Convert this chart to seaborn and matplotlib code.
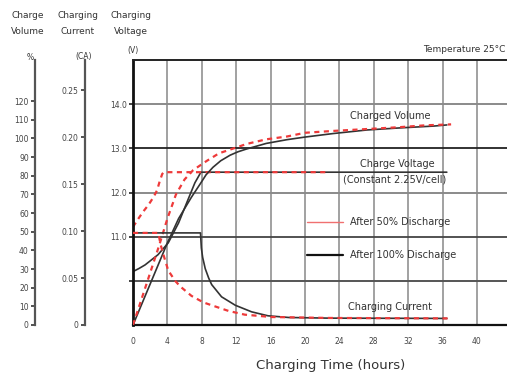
import matplotlib
matplotlib.use("Agg")
import matplotlib.pyplot as plt
import numpy as np
import pandas as pd
import seaborn as sns
from matplotlib.lines import Line2D

# ---------------- data ----------------
hour_ticks = [0, 4, 8, 12, 16, 20, 24, 28, 32, 36, 40]
volt_grid = [10.0, 11.0, 12.0, 13.0, 14.0]
volt_labels = ["", "11.0", "12.0", "13.0", "14.0"]
volume_ticks = [0, 10, 20, 30, 40, 50, 60, 70, 80, 90, 100, 110, 120]
current_ticks = [0, 0.05, 0.10, 0.15, 0.20, 0.25]
current_labels = ["0", "0.05", "0.10", "0.15", "0.20", "0.25"]

# charging voltage (V)
t_volt_50 = [0, 0.6, 1.2, 1.8, 2.4, 2.8, 3.1, 3.4, 3.6, 22.6]
v_volt_50 = [11.22, 11.40, 11.57, 11.72, 11.90, 12.05, 12.25, 12.42, 12.46, 12.46]
t_volt_100 = [0, 0.7, 1.4, 2.9, 4.1, 5.3, 6.4, 7.2, 7.9, 36.5]
v_volt_100 = [10.21, 10.28, 10.36, 10.59, 10.86, 11.31, 11.84, 12.22, 12.46, 12.46]

# charged volume (%)
t_vol_50 = [0, 1, 2, 3, 4, 5, 6, 7, 8.6, 10, 11.3, 13.2, 15.5, 17.9, 20, 23.3, 27.2, 31, 34, 37]
p_vol_50 = [0, 14, 28, 42, 57, 70, 78, 83, 88, 92, 94, 97, 99.5, 101, 103, 104, 105, 106, 107, 107.5]
t_vol_100 = [0, 2, 4, 5.3, 6.8, 7.8, 8.5, 9.3, 10.2, 11.3, 12.2, 13.2, 15.5, 17.9, 20, 23.3, 27.2, 31, 35, 36.5]
p_vol_100 = [0, 22, 44, 57, 68.5, 75.5, 80.5, 84.5, 88, 91, 92.8, 94.3, 97.3, 99.3, 100.7, 102.6, 104.5, 105.6, 106.6, 107.2]

# charging current (CA)
t_cur_50 = [0, 2.95, 3.2, 3.5, 4.1, 4.9, 5.5, 6.8, 8.2, 9.15, 11.1, 13, 16.1, 22.8, 37]
i_cur_50 = [0.098, 0.098, 0.086, 0.076, 0.058, 0.047, 0.041, 0.031, 0.024, 0.021, 0.015, 0.011, 0.0085, 0.0075, 0.007]
t_cur_100 = [0, 7.85, 7.95, 8.1, 8.4, 8.8, 9.15, 10.3, 11.9, 13.8, 15.7, 18.1, 22.8, 36.5]
i_cur_100 = [0.098, 0.098, 0.082, 0.072, 0.060, 0.050, 0.043, 0.030, 0.021, 0.014, 0.0098, 0.008, 0.0073, 0.007]

# ---------------- style ----------------
sns.set_style("white")
plt.rcParams["font.family"] = ["DejaVu Sans"]

W, H = 507, 376
fig = plt.figure(figsize=(W / 100, H / 100), dpi=100)
fig.patch.set_facecolor("white")

def fx(x):
    return x / W

def fy(y):
    return 1 - y / H

L, R, T, B = 133, 507, 60, 325
ax = fig.add_axes([L / W, (H - B) / H, (R - L) / W, (B - T) / H])
ax.set_xlim(0, 43.5)
ax.set_ylim(9, 15)

RED = "#ee3a3a"
BLK = "#333333"
dash = (0, (2.3, 2.0))

# grid lines
for h in hour_ticks[1:]:
    ax.axvline(h, color="#9a9a9a", lw=1.3, zorder=0)
grid_cols = {10.0: "#555555", 11.0: "#444444", 12.0: "#8a8a8a", 13.0: "#222222", 14.0: "#8a8a8a"}
for v in volt_grid:
    ax.axhline(v, color=grid_cols[v], lw=1.3 if v in (11.0, 13.0) else 1.4, zorder=0)

# spines main
ax.spines["right"].set_visible(False)
ax.spines["left"].set_color("#111111")
ax.spines["left"].set_linewidth(2.0)
ax.spines["bottom"].set_color("#111111")
ax.spines["bottom"].set_linewidth(1.6)
ax.spines["top"].set_color("#222222")
ax.spines["top"].set_linewidth(1.4)

ax.set_xticks(hour_ticks)
ax.set_xticklabels([str(h) for h in hour_ticks])
ax.set_yticks(volt_grid)
ax.set_yticklabels(volt_labels)
ax.tick_params(axis="x", length=0, pad=9, labelsize=5.5, labelcolor="#444444")
ax.tick_params(axis="y", length=3, width=1.2, color="#222222", pad=1.5, labelsize=5.5,
               labelcolor="#444444")

# volume and current axes
ax_vol = ax.twinx()
ax_vol.set_ylim(0, 142)
ax_cur = ax.twinx()
ax_cur.set_ylim(0, 0.282)
for a, pos in [(ax_vol, (35 - L) / (R - L)), (ax_cur, (85 - L) / (R - L))]:
    a.yaxis.tick_left()
    a.spines["left"].set_visible(True)
    a.spines["left"].set_position(("axes", pos))
    a.spines["left"].set_color("#555555")
    a.spines["left"].set_linewidth(1.6)
    for s in ["right", "top", "bottom"]:
        a.spines[s].set_visible(False)
    a.tick_params(axis="y", length=3, width=1.2, color="#333333", pad=1.5, labelsize=5.5,
                  labelcolor="#444444")
ax_vol.set_yticks(volume_ticks)
ax_vol.set_yticklabels([str(v) for v in volume_ticks])
ax_cur.set_yticks(current_ticks)
ax_cur.set_yticklabels(current_labels)

# curves
def line(a, t, y, color, ls, lw):
    sns.lineplot(x=t, y=y, ax=a, color=color, linestyle=ls, lw=lw,
                 estimator=None, sort=False, legend=False)

line(ax, t_volt_100, v_volt_100, BLK, "-", 1.2)
line(ax_vol, t_vol_100, p_vol_100, BLK, "-", 1.2)
line(ax_cur, t_cur_100, i_cur_100, BLK, "-", 1.2)
line(ax, t_volt_50, v_volt_50, RED, dash, 1.6)
line(ax_vol, t_vol_50, p_vol_50, RED, dash, 1.6)
line(ax_cur, t_cur_50, i_cur_50, RED, dash, 1.6)

for a in (ax, ax_vol, ax_cur):
    a.set_xlabel("")
    a.set_ylabel("")
ax.set_xlim(0, 43.5)

# texts
tc = "#333333"
fig.text(fx(28), fy(16), "Charge", ha="center", va="center", fontsize=6.5, color=tc)
fig.text(fx(28), fy(32), "Volume", ha="center", va="center", fontsize=6.5, color=tc)
fig.text(fx(78), fy(16), "Charging", ha="center", va="center", fontsize=6.5, color=tc)
fig.text(fx(78), fy(32), "Current", ha="center", va="center", fontsize=6.5, color=tc)
fig.text(fx(131), fy(16), "Charging", ha="center", va="center", fontsize=6.5, color=tc)
fig.text(fx(131), fy(32), "Voltage", ha="center", va="center", fontsize=6.5, color=tc)
fig.text(fx(30), fy(57), "%", ha="center", va="center", fontsize=5.5, color=tc)
fig.text(fx(84), fy(56), "(CA)", ha="center", va="center", fontsize=5.5, color=tc)
fig.text(fx(133), fy(50), "(V)", ha="center", va="center", fontsize=5.5, color=tc)
fig.text(fx(505), fy(49), "Temperature 25\u00b0C", ha="right", va="center", fontsize=6.5, color=tc)

fig.text(fx(390), fy(116), "Charged Volume", ha="center", va="center", fontsize=7, color=tc)
fig.text(fx(397), fy(164), "Charge Voltage", ha="center", va="center", fontsize=7, color=tc)
fig.text(fx(395), fy(179), "(Constant 2.25V/cell)", ha="center", va="center", fontsize=7, color=tc)
fig.text(fx(390), fy(307), "Charging Current", ha="center", va="center", fontsize=7, color=tc)
fig.text(fx(331), fy(366), "Charging Time (hours)", ha="center", va="center", fontsize=9.5, color=tc)

handles = [Line2D([], [], color="#f07070", lw=1.0), Line2D([], [], color="#111111", lw=1.6)]
fig.legend(handles, ["After 50% Discharge", "After 100% Discharge"], loc="upper left",
           bbox_to_anchor=(fx(307), fy(217)), bbox_transform=fig.transFigure,
           frameon=False, fontsize=7, handlelength=3.7, handletextpad=0.7,
           labelspacing=2.4, borderpad=0, borderaxespad=0, labelcolor=tc)

fig.savefig("out.png", dpi=100, facecolor="white")
